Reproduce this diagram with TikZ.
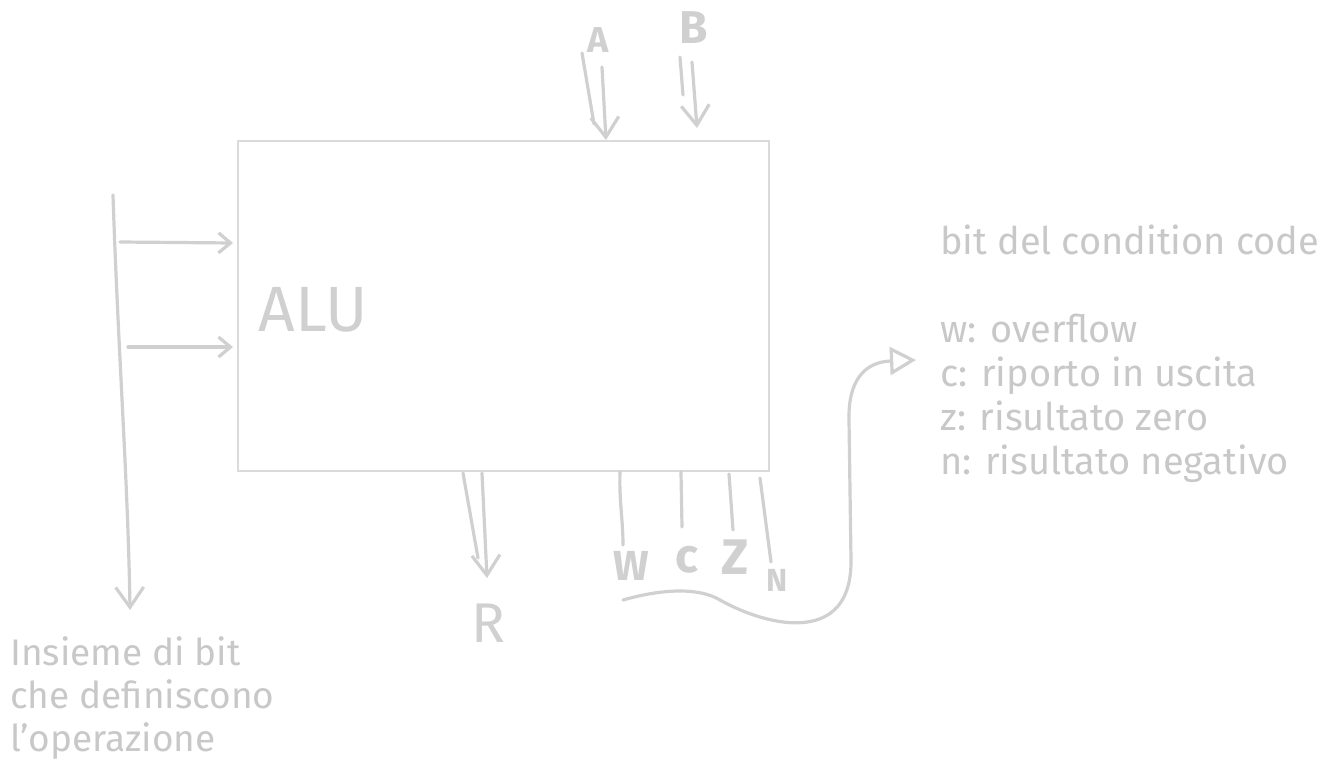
\documentclass[tikz,border=0pt]{standalone}
\usepackage{fontspec}
\setmainfont{Fira Sans}
\usetikzlibrary{arrows.meta}
\definecolor{strk}{HTML}{D0D0D0}
\definecolor{boxc}{HTML}{DADADA}
\definecolor{txt}{HTML}{C8C8C8}
\begin{document}
\begin{tikzpicture}[x=1pt,y=-1pt,
  sk/.style={draw=strk,line width=3.2pt,line cap=round,line join=round},
  vhead/.style={-{Straight Barb[length=20pt,width=28pt,line width=3.2pt]}},
  shead/.style={-{Straight Barb[length=12pt,width=20pt,line width=3.2pt]}},
  thead/.style={-{Triangle[open,length=26pt,width=28pt,line width=3.2pt]}},
  lbl/.style={text=txt,inner sep=0pt},
  hand/.style={text=strk,inner sep=0pt}]
\useasboundingbox (0,0) rectangle (1326,779);

% ALU box
\node[draw=boxc,line width=1.8pt,minimum width=531pt,minimum height=330pt,anchor=north west,inner sep=0pt] (alu) at (237,140) {};
\node[hand,font=\fontsize{64}{64}\selectfont] (alulbl) at (313,310) {ALU};

% input labels
\node[hand,font=\fontsize{36}{36}\selectfont\bfseries] (la) at (598,40) {A};
\node[hand,font=\fontsize{46}{46}\selectfont\bfseries] (lb) at (694,28) {B};

% A arrow
\coordinate (a1s) at (582,53);
\coordinate (a1e) at (594,124);
\coordinate (a2s) at (602,67);
\coordinate (a2e) at (606,140);
\draw[sk] (a1s) -- (a1e);
\draw[sk,vhead] (a2s) -- (a2e);

% B arrow
\coordinate (b1s) at (680,57);
\coordinate (b1e) at (683,95);
\coordinate (b2s) at (692,62);
\coordinate (b2e) at (697,128);
\draw[sk] (b1s) -- (b1e);
\draw[sk,vhead] (b2s) -- (b2e);

% operation bus
\coordinate (busTop) at (113,195);
\coordinate (busBot) at (130,610);
\draw[sk,vhead] (busTop) .. controls (118,350) and (128,480) .. (busBot);
\coordinate (h1s) at (120,242);
\coordinate (h1e) at (233,243);
\coordinate (h2s) at (128,347);
\coordinate (h2e) at (233,347);
\draw[sk,shead] (h1s) -- (h1e);
\draw[sk,shead] (h2s) -- (h2e);

\node[lbl,font=\fontsize{37}{43}\selectfont,align=left,anchor=north west] (optext) at (10,636)
  {Insieme di bit\\che definiscono\\l'operazione};

% R output
\coordinate (r1s) at (463,473);
\coordinate (r1e) at (478,558);
\coordinate (r2s) at (482,473);
\coordinate (r2e) at (487,578);
\draw[sk] (r1s) -- (r1e);
\draw[sk,vhead] (r2s) -- (r2e);
\node[hand,font=\fontsize{56}{56}\selectfont] (lr) at (488,623) {R};

% flag outputs
\node[hand,font=\fontsize{42}{42}\selectfont\bfseries] (lw) at (631,566) {W};
\node[hand,font=\fontsize{48}{48}\selectfont\bfseries] (lc) at (687,560) {c};
\node[hand,font=\fontsize{50}{50}\selectfont\bfseries] (lz) at (735,557) {Z};
\node[hand,font=\fontsize{32}{32}\selectfont\bfseries] (ln) at (777,580) {N};
\coordinate (ws) at (620,472); \coordinate (we) at (623,545);
\coordinate (cs) at (681,472); \coordinate (ce) at (682,527);
\coordinate (zs) at (729,474); \coordinate (ze) at (733,530);
\coordinate (ns) at (760,478); \coordinate (ne) at (771,562);
\draw[sk] (ws) .. controls (619,500) and (623,520) .. (we);
\draw[sk] (cs) -- (ce);
\draw[sk] (zs) -- (ze);
\draw[sk] (ns) -- (ne);

% condition code text
\node[lbl,font=\fontsize{38}{44}\selectfont,align=left,anchor=north west] (cctext) at (940,225)
  {bit del condition code\\[44pt]w: overflow\\c: riporto in uscita\\z: risultato zero\\n: risultato negativo};

% curved arrow
\coordinate (cvs) at (623,600);
\coordinate (cve) at (916,360);
\draw[sk,thead] (cvs) .. controls (665,588) and (700,588) .. (720,600)
  .. controls (770,628) and (852,645) .. (851,560)
  -- (849,420) .. controls (848,380) and (865,362) .. (cve);
\end{tikzpicture}
\end{document}
